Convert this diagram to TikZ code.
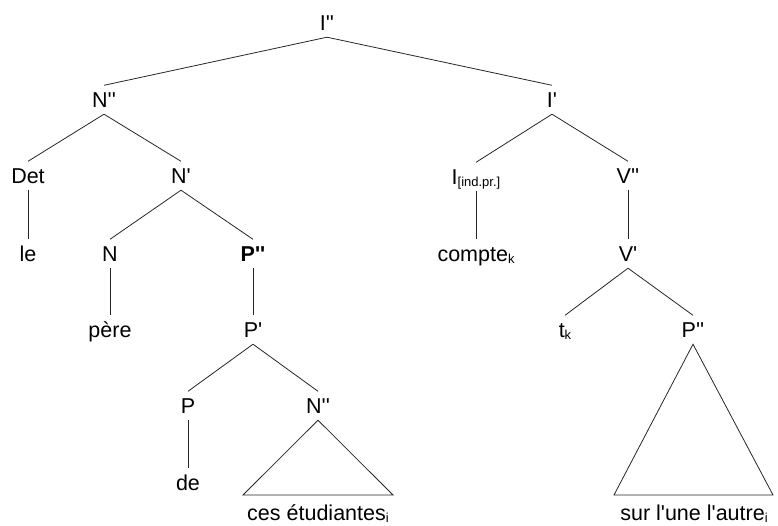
\documentclass[tikz,border=0pt]{standalone}
\usepackage{fontspec}
\setmainfont{Liberation Sans}[Ligatures=TeXOff]
\newcommand{\lowidx}[1]{\raisebox{-0.25ex}{\fontsize{13}{14}\selectfont #1}}
\tikzset{
  cat/.style={anchor=base, inner xsep=0pt, inner ysep=7pt, text height=14.5pt,
    text depth=0pt, font=\fontsize{21.5}{24}\selectfont},
  leaf/.style={anchor=base, inner sep=0pt, font=\fontsize{21.5}{24}\selectfont},
  branch/.style={line width=0.8pt, draw=black!85},
}
\begin{document}
\begin{tikzpicture}[x=1pt,y=-1pt]
    \useasboundingbox (0,0) rectangle (778,525);

    \node[cat] (ipp) at (327,30) {I''};
    \node[cat] (npp) at (104,107) {N''};
    \node[cat] (ip) at (552,107) {I'};
    \node[cat] (det) at (28,183) {Det};
    \node[cat] (np) at (181,183) {N'};
    \node[cat] (iind) at (476,184) {I\lowidx{[ind.pr.]}};
    \node[cat] (vpp) at (628,183) {V''};
    \node[cat] (le) at (28,261) {le};
    \node[cat] (n) at (110,261) {N};
    \node[cat] (ppb) at (253,261) {\bfseries P''};
    \node[cat] (compte) at (476,261) {compte\lowidx{k}};
    \node[cat] (vp) at (628,261) {V'};
    \node[cat] (pere) at (110,337) {père};
    \node[cat] (pp) at (253,337) {P'};
    \node[cat] (tk) at (565,337) {t\lowidx{k}};
    \node[cat] (ppr) at (693,337) {P''};
    \node[cat] (p) at (188,413) {P};
    \node[cat] (npp2) at (318,413) {N''};
    \node[cat] (de) at (188,490) {de};

    \foreach \a/\b in {ipp/npp, ipp/ip, npp/det, npp/np, ip/iind, ip/vpp,
        det/le, np/n, np/ppb, iind/compte, vpp/vp, n/pere, ppb/pp,
        vp/tk, vp/ppr, pp/p, pp/npp2, p/de}
        \draw[branch] (\a.south) -- (\b.north);

    \coordinate (ltl) at (243,495);
    \coordinate (ltr) at (393,495);
    \draw[branch] (npp2.south) -- (ltl) -- (ltr) -- cycle;
    \node[leaf] (ces) at (318,520) {ces étudiantes\lowidx{i}};

    \coordinate (rtl) at (614,495);
    \coordinate (rtr) at (773,495);
    \draw[branch] (ppr.south) -- (rtl) -- (rtr) -- cycle;
    \node[leaf] (sur) at (694,520) {sur l'une l'autre\lowidx{i}};
\end{tikzpicture}
\end{document}
